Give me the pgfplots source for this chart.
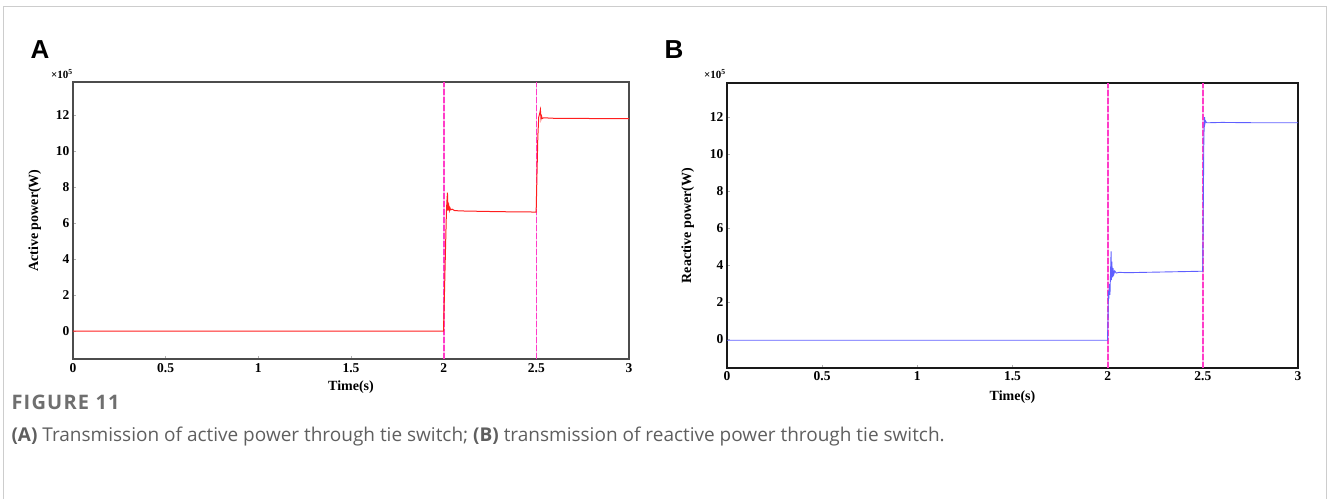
\documentclass[border=0pt]{standalone}
\usepackage{pgfplots}
\pgfplotsset{compat=1.18}
\usepackage{fontspec}
\setmainfont{Liberation Serif}
\newfontfamily\panelfont{Liberation Sans}
\newfontfamily\capfont{Open Sans}
\definecolor{sigred}{RGB}{255,30,30}
\definecolor{sigblue}{RGB}{95,95,255}
\definecolor{swpink}{RGB}{255,60,200}
\definecolor{frame}{RGB}{205,205,205}
\definecolor{capgray}{RGB}{95,95,95}
\pgfplotsset{
  panel/.style={
    scale only axis,
    anchor=south west,
    xmin=0, xmax=3, ymin=-1.55, ymax=13.85,
    xtick={0,0.5,1,1.5,2,2.5,3},
    xticklabels={0,0.5,1,1.5,2,2.5,3},
    ytick={0,2,4,6,8,10,12},
    yticklabels={0,2,4,6,8,10,12},
    tick align=inside,
    major tick length=3pt,
    tick style={gray!60, line width=0.4pt},
    xtick pos=bottom, ytick pos=left,
    ticklabel style={font=\fontsize{13.5}{13.5}\selectfont\bfseries},
    label style={font=\fontsize{14}{14}\selectfont\bfseries},
    xlabel={Time(s)},
    /pgf/number format/assume math mode=true,
    scaled y ticks=false,
    clip=true,
  },
  sw/.style={color=swpink, line width=1.4pt, dash pattern=on 6pt off 2pt},
  swbg/.style={color=swpink!35, line width=1.4pt},
}
\begin{document}
\begin{tikzpicture}[x=1pt,y=1pt]
\useasboundingbox (0,0) rectangle (1327,499);
% outer frame
\draw[frame, line width=1pt] (3,0) -- (3,492) -- (1326,492) -- (1326,0);
% panel letters
\node[font=\panelfont\fontsize{26}{26}\selectfont\bfseries] at (40,449) {A};
\node[font=\panelfont\fontsize{26}{26}\selectfont\bfseries] at (674,449) {B};
% Panel A
\begin{axis}[panel, at={(73pt,140pt)}, width=556pt, height=277pt,
  axis line style={black!70, line width=1.1pt},
  ylabel={Active power(W)},
  xlabel style={yshift=-1pt},
  ylabel style={yshift=8pt},
  xticklabel style={yshift=-1pt}]
\addplot[swbg] coordinates {(2.002,-1.55) (2.002,13.85)};
\addplot[swbg] coordinates {(2.5,-1.55) (2.5,13.85)};
\addplot[sw] coordinates {(2.002,-1.55) (2.002,13.85)};
\addplot[sw] coordinates {(2.5,-1.55) (2.5,13.85)};
\addplot[sigred, line width=1pt] coordinates {
(0,0) (1.999,0) (2.004,2.0) (2.010,4.6) (2.015,6.7) (2.018,7.3) (2.0205,7.7) (2.022,6.7)
(2.024,7.1) (2.026,6.75) (2.028,6.95) (2.031,6.72) (2.034,6.85) (2.038,6.74) (2.045,6.78)
(2.06,6.70) (2.1,6.68) (2.2,6.66) (2.3,6.64) (2.4,6.63) (2.499,6.62)
(2.503,8.5) (2.508,10.8) (2.513,11.9) (2.518,12.1) (2.522,12.3) (2.525,11.8)
(2.528,11.95) (2.532,11.82) (2.54,11.86) (2.6,11.83) (2.8,11.82) (3,11.82)};
\end{axis}
\node[font=\fontsize{11}{11}\selectfont\bfseries] at (62,425) {×10\textsuperscript{5}};
% Panel B
\begin{axis}[panel, at={(727pt,131pt)}, width=571pt, height=285pt,
  axis line style={black!90, line width=1.3pt},
  ylabel={Reactive power(W)},
  xlabel style={yshift=-3pt},
  ylabel style={yshift=9pt}]
\addplot[swbg] coordinates {(2.002,-1.55) (2.002,13.85)};
\addplot[swbg] coordinates {(2.5,-1.55) (2.5,13.85)};
\addplot[sw] coordinates {(2.002,-1.55) (2.002,13.85)};
\addplot[sw] coordinates {(2.5,-1.55) (2.5,13.85)};
\addplot[sigblue, line width=0.9pt] coordinates {
(0,-0.05) (1.999,-0.05) (2.002,1.2) (2.004,2.6) (2.006,2.2) (2.009,3.0) (2.012,2.4)
(2.015,3.6) (2.018,4.75) (2.020,3.2) (2.022,4.2) (2.025,3.35) (2.028,3.85) (2.032,3.5)
(2.037,3.7) (2.045,3.58) (2.06,3.62) (2.1,3.6) (2.2,3.62) (2.3,3.64) (2.4,3.66) (2.499,3.68)
(2.501,5.5) (2.503,8.0) (2.505,10.5) (2.507,11.6) (2.509,12.0) (2.511,11.65) (2.514,11.8)
(2.52,11.7) (2.6,11.72) (2.8,11.7) (3,11.7)};
\end{axis}
\node[font=\fontsize{11}{11}\selectfont\bfseries] at (715,425) {×10\textsuperscript{5}};
% caption
\node[anchor=west, font=\capfont\fontsize{20}{20}\selectfont\bfseries\addfontfeature{LetterSpace=6}, text=capgray!90] at (8,97) {FIGURE 11};
\node[anchor=west, font=\capfont\fontsize{19}{19}\selectfont, text=capgray] at (8,62)
  {\textbf{(A)} Transmission of active power through tie switch; \textbf{(B)} transmission of reactive power through tie switch.};
\end{tikzpicture}
\end{document}
